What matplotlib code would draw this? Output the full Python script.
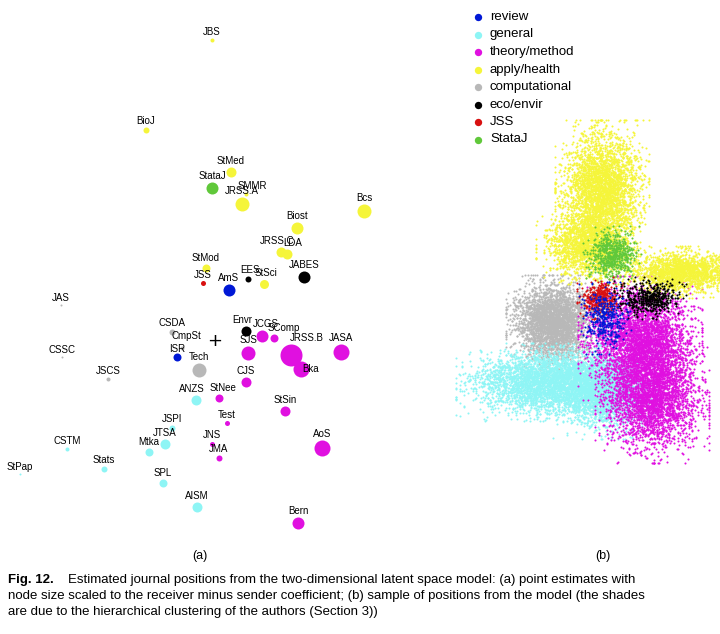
import numpy as np
import matplotlib.pyplot as plt

# panel (a): journal positions (pixel-like coords), marker radius, group
names = ['JBS', 'BioJ', 'StMed', 'StataJ', 'SMMR', 'JRSS.A', 'Bcs', 'Biost', 'JRSS.C', 'LDA',
         'StMod', 'JSS', 'AmS', 'EES', 'StSci', 'JABES', 'JAS', 'CSDA', 'Envr', 'JCGS', 'SComp',
         'CmpSt', 'ISR', 'Tech', 'SJS', 'JRSS.B', 'Bka', 'JASA', 'CSSC', 'JSCS', 'CJS', 'ANZS',
         'StNee', 'StSin', 'Test', 'JSPI', 'JTSA', 'JNS', 'Mtka', 'JMA', 'AoS', 'CSTM', 'Stats',
         'StPap', 'SPL', 'AISM', 'Bern']
xs = [212, 146, 231, 212, 246, 242, 364, 297, 281, 287, 206, 203, 229, 248, 264, 304, 61, 172,
      246, 262, 274, 182, 177, 199, 248, 291, 301, 341, 62, 108, 246, 196, 219, 285, 227, 172,
      165, 212, 149, 219, 322, 67, 104, 20, 163, 197, 298]
ys = [40, 130, 172, 188, 194, 204, 211, 228, 252, 254, 268, 283, 290, 279, 284, 277, 305, 332,
      331, 336, 338, 348, 357, 370, 353, 355, 369, 352, 357, 379, 382, 400, 398, 411, 423, 428,
      444, 444, 452, 458, 448, 449, 469, 474, 483, 507, 523]
radius = [2, 3, 5, 6, 2, 7, 7, 6, 5, 5, 4, 2.5, 6, 3, 4.5, 6, 1, 3, 5, 6, 4, 2, 4, 7, 7, 11, 8,
          8, 1, 2, 5, 5, 4, 5, 2.5, 3, 5, 2.5, 4, 3, 8, 2, 3, 1, 4, 5, 6]
groups = ['a', 'a', 'a', 's', 'a', 'a', 'a', 'a', 'a', 'a', 'a', 'j', 'r', 'e', 'a', 'e', 'c', 'c',
          'e', 't', 't', 'c', 'r', 'c', 't', 't', 't', 't', 'c', 'c', 't', 'g', 't', 't', 't', 'g',
          'g', 't', 'g', 't', 't', 'g', 'g', 'g', 'g', 'g', 't']
# label offsets where the reference shifts a label sideways
label_dx = {'SMMR': 6, 'JRSS.C': -4, 'LDA': 6, 'SComp': 10, 'JCGS': 4, 'Envr': -4,
            'EES': 2, 'StSci': 2, 'CmpSt': 4, 'Bka': 10, 'StNee': 4, 'ANZS': -4,
            'JRSS.B': 16}
label_dy = {'Bka': 14, 'ISR': 2, 'CmpSt': -4}
group_colors = {'r': '#0018d6', 'g': '#8ef5f5', 't': '#e010e0', 'a': '#f5f53a',
                'c': '#b8b8b8', 'e': '#000000', 'j': '#d81010', 's': '#60c83a'}
legend_labels = ['review', 'general', 'theory/method', 'apply/health',
                 'computational', 'eco/envir', 'JSS', 'StataJ']
legend_keys = ['r', 'g', 't', 'a', 'c', 'e', 'j', 's']

# panel (b): posterior sample clouds -- centre x, centre y, spread x, spread y, count, group
cl_x = [553, 555, 605, 640, 652, 602, 588, 680, 612, 600, 650, 605]
cl_y = [322, 382, 392, 338, 395, 188, 245, 272, 255, 298, 298, 318]
cl_sx = [18, 38, 20, 24, 22, 18, 20, 24, 11, 9, 14, 10]
cl_sy = [18, 15, 18, 24, 26, 26, 15, 10, 11, 8, 8, 14]
cl_n = [3000, 4000, 1800, 3000, 3000, 3000, 1800, 1800, 600, 350, 450, 350]
cl_g = ['c', 'g', 'g', 't', 't', 'a', 'a', 'a', 's', 'j', 'e', 'r']

fig = plt.figure(figsize=(7.2, 6.34), dpi=100)
ax = fig.add_axes([0, 0, 1, 1])
ax.set_xlim(0, 720)
ax.set_ylim(634, 0)
ax.axis('off')

# (b) clouds
rng = np.random.default_rng(3)
for cx, cy, sx, sy, n, g in zip(cl_x, cl_y, cl_sx, cl_sy, cl_n, cl_g):
    px = np.clip(rng.normal(0, 1, n), -2.6, 2.6) * sx + cx
    py = np.clip(rng.normal(0, 1, n), -2.6, 2.6) * sy + cy
    ax.scatter(px, py, s=2.2, color=group_colors[g], linewidths=0, zorder=2)

# (a) journals
for nm, x, y, r, g in zip(names, xs, ys, radius, groups):
    ax.scatter(x, y, s=(2 * r * 0.72) ** 2, color=group_colors[g], linewidths=0, zorder=3)
    ax.text(x + label_dx.get(nm, 0), y - r - 1 + label_dy.get(nm, 0), nm,
            ha='center', va='bottom', fontsize=7, zorder=4, family='Liberation Sans')
ax.text(215, 341, '+', ha='center', va='center', fontsize=13)

# legend
for i, (k, lab) in enumerate(zip(legend_keys, legend_labels)):
    yy = 17 + i * 17.5
    ax.scatter(478, yy, s=28, color=group_colors[k], linewidths=0)
    ax.text(490, yy, lab, va='center', fontsize=9.5, family='Liberation Sans')

ax.text(200, 550, '(a)', ha='center', va='top', fontsize=9, family='Liberation Sans')
ax.text(603, 550, '(b)', ha='center', va='top', fontsize=9, family='Liberation Sans')

cap = dict(fontsize=9.5, va='top', family='Liberation Sans')
ax.text(8, 574, 'Fig. 12.', weight='bold', **cap)
ax.text(68, 574, 'Estimated journal positions from the two-dimensional latent space model: (a) point estimates with', **cap)
ax.text(8, 590, 'node size scaled to the receiver minus sender coefficient; (b) sample of positions from the model (the shades', **cap)
ax.text(8, 606, 'are due to the hierarchical clustering of the authors (Section 3))', **cap)

fig.savefig('out.png', dpi=100)
